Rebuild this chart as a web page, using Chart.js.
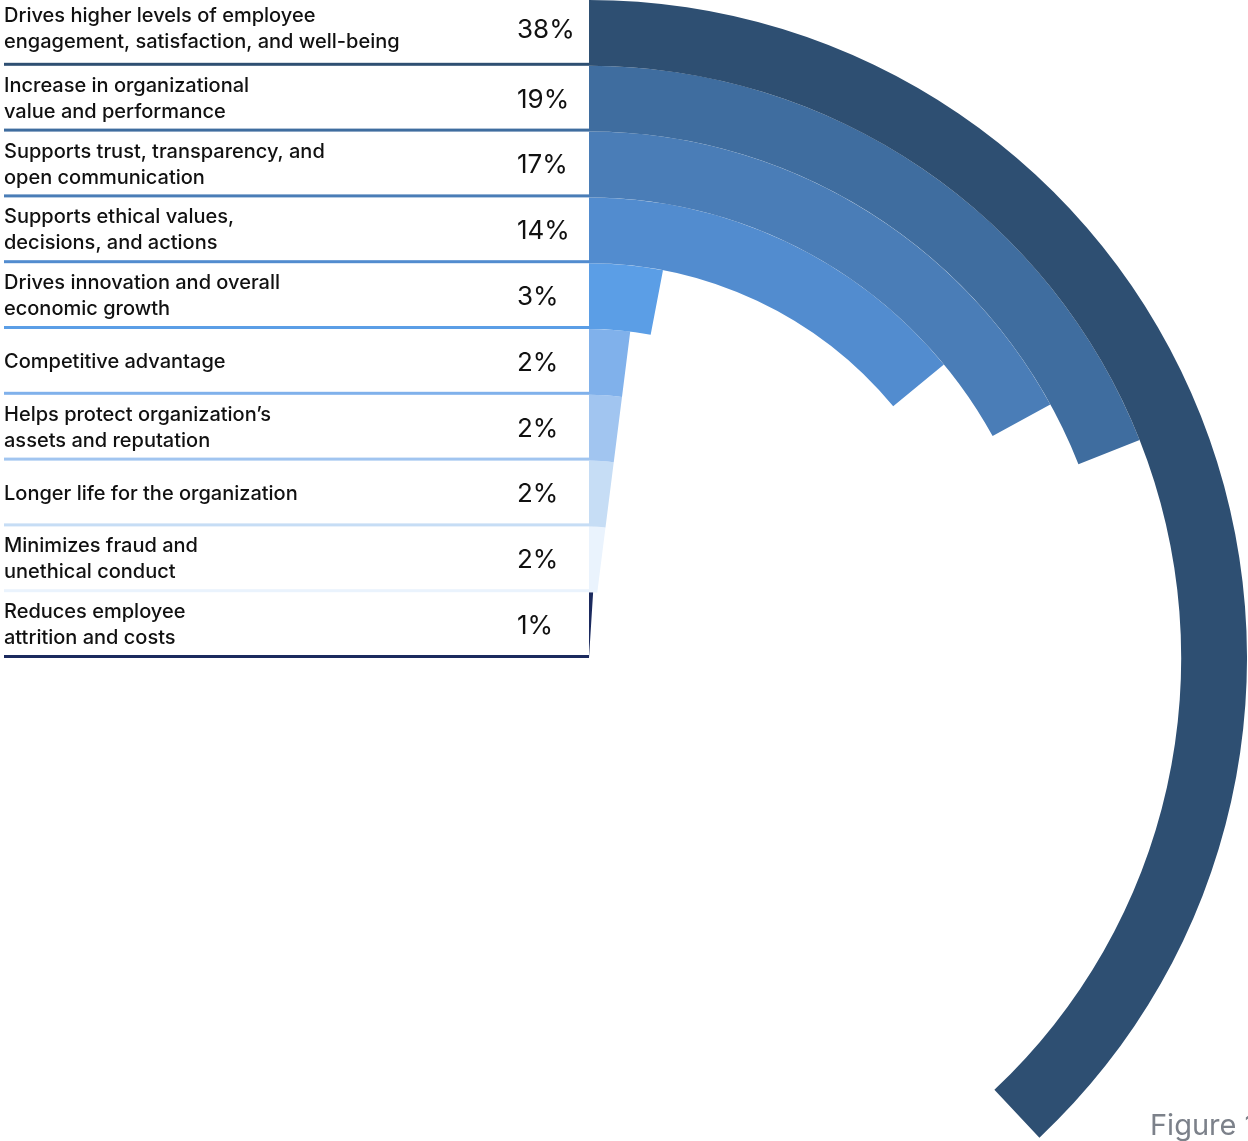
<!DOCTYPE html>
<html>
<head>
<meta charset="utf-8">
<title>Benefits</title>
<script src="https://cdn.jsdelivr.net/npm/chart.js@4.4.1/dist/chart.umd.min.js"></script>
<style>
    html, body {
        margin: 0;
        padding: 0;
        width: 1248px;
        height: 1141px;
        overflow: hidden;
        background: #fff;
        position: relative;
        font-family: Inter, "Noto Sans", sans-serif;
    }
    #wrap {
        position: absolute;
        left: -69px;
        top: 0;
        width: 1316px;
        height: 1316px;
    }
    #figureLabel {
        position: absolute;
        left: 1150px;
        top: 1107px;
        font-size: 29px;
        color: #7c818a;
        white-space: nowrap;
    }
</style>
</head>
<body>
<div id="wrap"><canvas id="ringChart" width="1316" height="1316"></canvas></div>
<div id="figureLabel">Figure 1</div>
<script>
const labels = [
    ['Drives higher levels of employee', 'engagement, satisfaction, and well-being'],
    ['Increase in organizational', 'value and performance'],
    ['Supports trust, transparency, and', 'open communication'],
    ['Supports ethical values,', 'decisions, and actions'],
    ['Drives innovation and overall', 'economic growth'],
    ['Competitive advantage'],
    ['Helps protect organization\u2019s', 'assets and reputation'],
    ['Longer life for the organization'],
    ['Minimizes fraud and', 'unethical conduct'],
    ['Reduces employee', 'attrition and costs'],
];
const values = [38, 19, 17, 14, 3, 2, 2, 2, 2, 1];
const colors = [
    '#2e4f72', '#3f6d9f', '#4a7db7', '#528ccf', '#5b9ee6',
    '#80b1eb', '#a1c5f0', '#c6ddf5', '#eaf3fd', '#1b2a5e',
];

const LABEL_X = 585;   // distance left of centre where labels start
const PCT_X = 72;      // distance left of centre where percentages start

// one ring per answer, outermost first; the rest of each ring is left empty
const datasets = values.map((v, i) => ({
    data: [v, 100 - v],
    backgroundColor: [colors[i], 'rgba(0,0,0,0)'],
    borderWidth: 0,
}));

const tablePlugin = {
    id: 'rowTable',
    afterDraw(chart) {
        const ctx = chart.ctx;
        ctx.save();
        chart.data.datasets.forEach((ds, i) => {
            const arc = chart.getDatasetMeta(i).data[0];
            const cx = arc.x;
            const top = arc.y - arc.outerRadius;
            const bottom = arc.y - arc.innerRadius;
            // top row sits a little higher since it touches the page edge
            const mid = (top + bottom) / 2 - (i === 0 ? 4 : 0);

            // row rule in the ring colour
            ctx.fillStyle = colors[i];
            ctx.fillRect(cx - LABEL_X, bottom - 3, LABEL_X, 3);

            ctx.fillStyle = '#111';
            ctx.textBaseline = 'middle';
            ctx.textAlign = 'left';
            ctx.font = '500 20px Inter, "Noto Sans", sans-serif';
            const lines = labels[i];
            const lh = 26;
            lines.forEach((line, j) => {
                const y = mid + (j - (lines.length - 1) / 2) * lh;
                ctx.fillText(line, cx - LABEL_X, y);
            });

            ctx.font = '26px Inter, "Noto Sans", sans-serif';
            ctx.fillText(values[i] + '%', cx - PCT_X, mid + 1);
        });
        ctx.restore();
    },
};

new Chart(document.getElementById('ringChart'), {
    type: 'doughnut',
    data: {
        labels: ['value', 'rest'],
        datasets: datasets,
    },
    options: {
        responsive: false,
        animation: false,
        cutout: 0,
        rotation: 0,
        circumference: 360,
        layout: { padding: 0 },
        plugins: {
            legend: { display: false },
            tooltip: { enabled: false },
        },
        events: [],
    },
    plugins: [tablePlugin],
});
</script>
</body>
</html>
